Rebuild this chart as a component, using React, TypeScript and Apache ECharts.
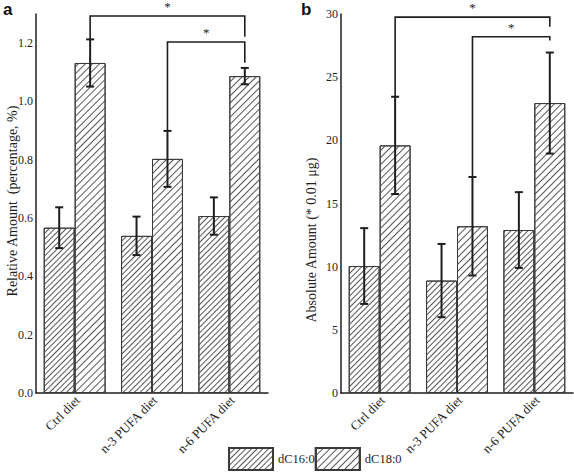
import React, { useEffect, useRef } from "react";
import * as echarts from "echarts";

const categories = ["Ctrl diet", "n-3 PUFA diet", "n-6 PUFA diet"];
const seriesNames = ["dC16:0", "dC18:0"];

// Panel a: relative amount (percentage, %)
const relC16 = [0.567, 0.539, 0.607];
const relC16Err = [0.07, 0.066, 0.064];
const relC18 = [1.132, 0.803, 1.087];
const relC18Err = [0.081, 0.096, 0.028];
const relTicks = { min: 0, max: 1.3, interval: 0.2 };
// significance brackets: [fromCategory, toCategory, barY, leftLegEnd, rightLegEnd]
const relBrackets = [
  [0, 2, 1.293, 1.213, 1.222],
  [1, 2, 1.204, 0.899, 1.133],
];

// Panel b: absolute amount (* 0.01 µg)
const absC16 = [10.05, 8.9, 12.9];
const absC16Err = [3.0, 2.9, 3.0];
const absC18 = [19.6, 13.2, 22.95];
const absC18Err = [3.85, 3.9, 4.0];
const absTicks = { min: 0, max: 30, interval: 5 };
const absBrackets = [
  [0, 2, 29.75, 23.45, 29.0],
  [1, 2, 28.2, 17.1, 27.9],
];

const SERIF = "'Liberation Serif', 'Times New Roman', serif";
const INK = "#1e1e1e";

const decal16 = {
  symbol: "rect",
  symbolSize: 1,
  dashArrayX: [1, 0],
  dashArrayY: [1, 2.2],
  rotation: -Math.PI / 4,
  color: "#555",
};
const decal18 = {
  symbol: "rect",
  symbolSize: 1,
  dashArrayX: [1, 0],
  dashArrayY: [1, 4],
  rotation: -Math.PI / 4,
  color: "#555",
};

function errorData(means: number[], errs: number[], s: number) {
  return means.map((m, i) => [i, s, m - errs[i], m + errs[i]]);
}

function errorRenderItem(params: any, api: any) {
  const cat = api.value(0);
  const s = api.value(1);
  const lo = api.value(2);
  const hi = api.value(3);
  const band = api.size([1, 0])[0];
  const pLo = api.coord([cat, lo]);
  const pHi = api.coord([cat, hi]);
  const x = pLo[0] + (s === 0 ? -0.2 : 0.2) * band;
  const cap = 4;
  const style = { stroke: INK, lineWidth: 2 };
  return {
    type: "group",
    children: [
      { type: "line", shape: { x1: x, y1: pLo[1], x2: x, y2: pHi[1] }, style },
      { type: "line", shape: { x1: x - cap, y1: pHi[1], x2: x + cap, y2: pHi[1] }, style },
      { type: "line", shape: { x1: x - cap, y1: pLo[1], x2: x + cap, y2: pLo[1] }, style },
    ],
  };
}

function bracketRenderItem(params: any, api: any) {
  const from = api.value(0);
  const to = api.value(1);
  const y = api.value(2);
  const le = api.value(3);
  const re = api.value(4);
  const band = api.size([1, 0])[0];
  const x1 = api.coord([from, y])[0] + 0.2 * band;
  const x2 = api.coord([to, y])[0] + 0.2 * band;
  const py = api.coord([from, y])[1];
  const pl = api.coord([from, le])[1];
  const pr = api.coord([to, re])[1];
  return {
    type: "group",
    children: [
      {
        type: "polyline",
        shape: { points: [[x1, pl], [x1, py], [x2, py], [x2, pr]] },
        style: { stroke: INK, lineWidth: 1.6, fill: null },
      },
      {
        type: "text",
        x: (x1 + x2) / 2,
        y: py - 3,
        style: {
          text: "*",
          align: "center",
          verticalAlign: "bottom",
          font: `13px ${SERIF}`,
          fill: INK,
        },
      },
    ],
  };
}

function catLabelRenderItem(params: any, api: any) {
  const cat = api.value(0);
  const p = api.coord([cat, api.value(1)]);
  return {
    type: "text",
    x: p[0] + 3,
    y: p[1] + 5,
    rotation: Math.PI / 4,
    style: {
      text: categories[params.dataIndex],
      align: "right",
      verticalAlign: "middle",
      font: `13px ${SERIF}`,
      fill: INK,
    },
  };
}

function barSeries(name: string, data: number[], idx: number, decal: any) {
  return {
    type: "bar",
    name,
    xAxisIndex: idx,
    yAxisIndex: idx,
    data,
    barGap: "0%",
    barCategoryGap: "20%",
    itemStyle: { color: "#fff", borderColor: "#3a3a3a", borderWidth: 1, decal },
  };
}

function xAxis(idx: number) {
  return {
    type: "category",
    gridIndex: idx,
    data: categories,
    axisTick: { show: false },
    axisLine: { lineStyle: { color: INK, width: 1.5 } },
    axisLabel: { show: false },
  };
}

function yAxis(idx: number, t: { min: number; max: number; interval: number }, fmt: (v: number) => string) {
  return {
    type: "value",
    gridIndex: idx,
    min: t.min,
    max: t.max,
    interval: t.interval,
    splitLine: { show: false },
    axisTick: { show: false },
    axisLine: { show: true, lineStyle: { color: INK, width: 1.5 } },
    axisLabel: {
      showMaxLabel: idx === 0 ? false : true,
      margin: 3,
      fontSize: 12,
      fontFamily: SERIF,
      color: INK,
      formatter: fmt,
    },
  };
}

function catLabelSeries(idx: number, y0: number) {
  return {
    type: "custom",
    name: "labels" + idx,
    xAxisIndex: idx,
    yAxisIndex: idx,
    renderItem: catLabelRenderItem,
    encode: { x: 0, y: 1 },
    data: categories.map((c, i) => [i, y0]),
    clip: false,
    silent: true,
  };
}

export default function App() {
  const ref = useRef<HTMLDivElement>(null);
  useEffect(() => {
    if (!ref.current) return;
    const chart = echarts.init(ref.current, null, { renderer: "svg" });
    chart.setOption({
      animation: false,
      backgroundColor: "#fff",
      grid: [
        { left: 36, top: 14, width: 232, height: 379 },
        { left: 341, top: 14, width: 232, height: 379 },
      ],
      xAxis: [xAxis(0), xAxis(1)],
      yAxis: [
        yAxis(0, relTicks, (v: number) => v.toFixed(1)),
        yAxis(1, absTicks, (v: number) => String(v)),
      ],
      legend: {
        data: seriesNames,
        left: 228,
        top: 447,
        padding: 0,
        itemWidth: 44,
        itemHeight: 22,
        itemGap: 0,
        icon: "rect",
        textStyle: { fontSize: 12.5, fontFamily: SERIF, color: INK },
      },
      graphic: [
        {
          type: "text",
          x: 3,
          y: 1,
          style: { text: "a", font: `bold 17px 'Liberation Sans', Arial, sans-serif`, fill: "#111" },
        },
        {
          type: "text",
          x: 301,
          y: 1,
          style: { text: "b", font: `bold 17px 'Liberation Sans', Arial, sans-serif`, fill: "#111" },
        },
        {
          type: "text",
          x: 12,
          y: 201,
          rotation: Math.PI / 2,
          style: {
            text: "Relative Amount  (percentage, %)",
            font: `14px ${SERIF}`,
            fill: INK,
            align: "center",
            verticalAlign: "middle",
          },
        },
        {
          type: "text",
          x: 311,
          y: 240,
          rotation: Math.PI / 2,
          style: {
            text: "Absolute Amount (* 0.01 μg)",
            font: `14px ${SERIF}`,
            fill: INK,
            align: "center",
            verticalAlign: "middle",
          },
        },
      ],
      series: [
        barSeries(seriesNames[0], relC16, 0, decal16),
        barSeries(seriesNames[1], relC18, 0, decal18),
        barSeries(seriesNames[0], absC16, 1, decal16),
        barSeries(seriesNames[1], absC18, 1, decal18),
        {
          type: "custom",
          name: "errA",
          xAxisIndex: 0,
          yAxisIndex: 0,
          renderItem: errorRenderItem,
          encode: { x: 0, y: [2, 3] },
          data: [...errorData(relC16, relC16Err, 0), ...errorData(relC18, relC18Err, 1)],
          z: 5,
        },
        {
          type: "custom",
          name: "errB",
          xAxisIndex: 1,
          yAxisIndex: 1,
          renderItem: errorRenderItem,
          encode: { x: 0, y: [2, 3] },
          data: [...errorData(absC16, absC16Err, 0), ...errorData(absC18, absC18Err, 1)],
          z: 5,
        },
        {
          type: "custom",
          name: "sigA",
          xAxisIndex: 0,
          yAxisIndex: 0,
          renderItem: bracketRenderItem,
          encode: { x: [0, 1], y: [2, 3, 4] },
          data: relBrackets,
          clip: false,
          z: 5,
        },
        {
          type: "custom",
          name: "sigB",
          xAxisIndex: 1,
          yAxisIndex: 1,
          renderItem: bracketRenderItem,
          encode: { x: [0, 1], y: [2, 3, 4] },
          data: absBrackets,
          clip: false,
          z: 5,
        },
        catLabelSeries(0, relTicks.min),
        catLabelSeries(1, absTicks.min),
      ],
    });
    return () => chart.dispose();
  }, []);
  return (
    <div
      ref={ref}
      style={{ position: "absolute", left: 0, top: 0, width: 574, height: 472, background: "#fff" }}
    />
  );
}
